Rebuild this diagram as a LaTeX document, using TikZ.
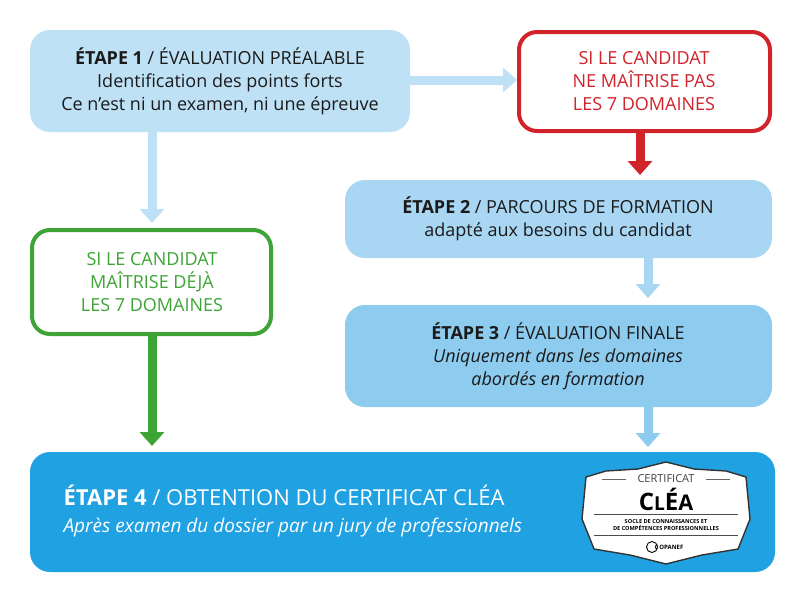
\documentclass[tikz,border=0pt]{standalone}
\usepackage{fontspec}
\setmainfont{Open Sans}
\usetikzlibrary{arrows.meta}
\definecolor{lb1}{HTML}{BFE1F6}
\definecolor{lb2}{HTML}{A9D7F3}
\definecolor{lb3}{HTML}{8DCBEF}
\definecolor{db}{HTML}{1FA1E2}
\definecolor{rd}{HTML}{D1232A}
\definecolor{gr}{HTML}{3DA535}
\definecolor{txt}{HTML}{1A1A1A}
\begin{document}
\begin{tikzpicture}[x=1pt,y=-1pt,
  arr/.style={line width=9pt,-{Triangle[width=24pt,length=14pt]}},
  tt/.style={font=\fontsize{18}{23}\selectfont}]
\useasboundingbox (0,0) rectangle (800,592);
\fill[white] (0,0) rectangle (800,592);
% boxes
\fill[lb1,rounded corners=20pt] (30,30) rectangle (410,132);
\node[tt,align=center,text=txt] (s1) at (220,81) {\textbf{ÉTAPE 1} / ÉVALUATION PRÉALABLE\\Identification des points forts\\Ce n’est ni un examen, ni une épreuve};
\draw[rd,line width=4pt,fill=white,rounded corners=18pt] (519,32) rectangle (770,131);
\node[tt,align=center,text=rd] (r) at (644,81) {SI LE CANDIDAT\\NE MAÎTRISE PAS\\LES 7 DOMAINES};
\fill[lb2,rounded corners=20pt] (345,180) rectangle (772,258);
\node[tt,align=center,text=txt] (s2) at (558,219) {\textbf{ÉTAPE 2} / PARCOURS DE FORMATION\\adapté aux besoins du candidat};
\fill[lb3,rounded corners=20pt] (345,305) rectangle (772,407);
\node[tt,align=center,text=txt] (s3) at (558,356) {\textbf{ÉTAPE 3} / ÉVALUATION FINALE\\\itshape Uniquement dans les domaines\\\itshape abordés en formation};
\draw[gr,line width=4pt,fill=white,rounded corners=18pt] (32,230) rectangle (271,334);
\node[tt,align=center,text=gr] (g) at (152,282) {SI LE CANDIDAT\\MAÎTRISE DÉJÀ\\LES 7 DOMAINES};
\fill[db,rounded corners=20pt] (30,452) rectangle (775,572);
\node[anchor=west,align=left,text=white,font=\fontsize{22}{27}\selectfont] (s4) at (60,511) {\textbf{ÉTAPE 4} / OBTENTION DU CERTIFICAT CLÉA\\\itshape\fontsize{19}{23}\selectfont Après examen du dossier par un jury de professionnels};
% arrows
\coordinate (a1) at (410,80); \coordinate (a1e) at (517,80);
\draw[arr,lb1] (a1) -- (a1e);
\coordinate (a2) at (152,132); \coordinate (a2e) at (152,223);
\draw[arr,lb1] (a2) -- (a2e);
\coordinate (a3) at (640,133); \coordinate (a3e) at (640,175);
\draw[arr,rd] (a3) -- (a3e);
\coordinate (a4) at (648,258); \coordinate (a4e) at (648,298);
\draw[arr,lb2] (a4) -- (a4e);
\coordinate (a5) at (648,407); \coordinate (a5e) at (648,447);
\draw[arr,lb3] (a5) -- (a5e);
\coordinate (a6) at (152,336); \coordinate (a6e) at (152,446);
\draw[arr,gr] (a6) -- (a6e);
% logo
\begin{scope}[shift={(666,513)}]
\draw[fill=white,draw=black!80,line width=1.4pt]
  (-80,-36) -- (-60,-42) -- (-28,-44) -- (0,-51) -- (28,-44) -- (60,-42) -- (80,-36) -- (84,6)
  -- (72,36) -- (36,42) -- (0,51) -- (-36,42) -- (-72,36) -- (-84,6) -- cycle;
\node[font=\fontsize{11}{12}\selectfont,text=black!75] (l1) at (0,-34) {CERTIFICAT};
\draw[black!60,line width=0.8pt] (-64,-34) -- (-40,-34) (40,-34) -- (64,-34);
\node[font=\bfseries\fontsize{24}{24}\selectfont] (l2) at (0,-14) {C\scalebox{0.8}{L}É\scalebox{0.9}{A}};
\draw[black!70,line width=0.9pt] (-72,1) -- (72,1) (-72,22) -- (72,22);
\node[font=\bfseries\fontsize{5.6}{7}\selectfont,align=center] (l3) at (0,11.5) {SOCLE DE CONNAISSANCES ET\\DE COMPÉTENCES PROFESSIONNELLES};
\node[font=\bfseries\fontsize{6}{7}\selectfont] (l4) at (3,34) {C\,OPANEF};
\draw[black,line width=0.9pt] (-14,34) circle (5.5pt);
\end{scope}
\end{tikzpicture}
\end{document}
